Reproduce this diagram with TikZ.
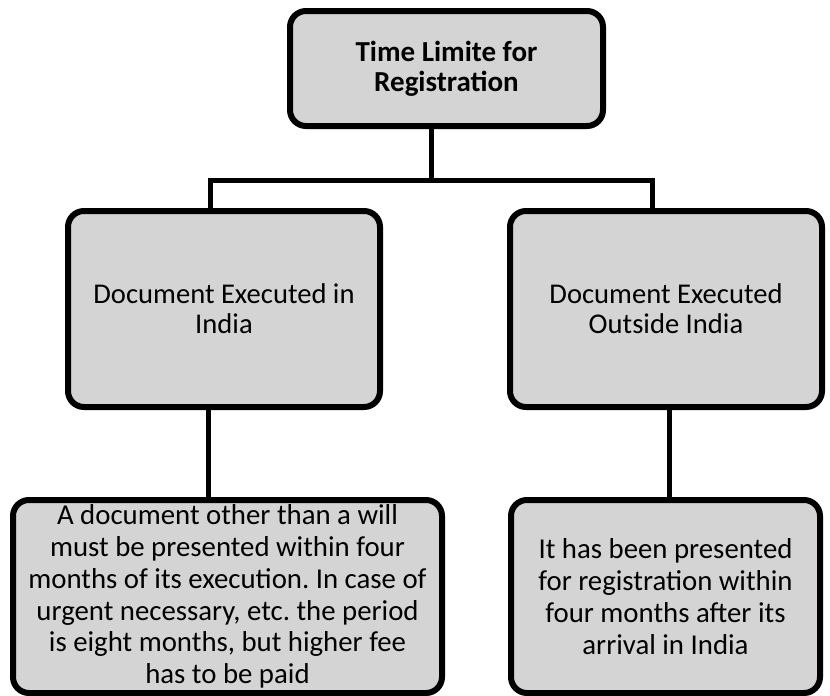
\documentclass[tikz,border=0pt]{standalone}
\usepackage{fontspec}
\setmainfont{Carlito}
\usepackage{tikz}
\definecolor{boxgray}{RGB}{212,212,212}
\frenchspacing

\begin{document}
\begin{tikzpicture}[x=1pt, y=-1pt,
  box/.style={draw=black, fill=boxgray, line width=6pt, rounded corners=16pt, align=center, inner sep=0pt, font=\fontsize{28.6}{30}\selectfont},
  note/.style={box, font=\fontsize{28.8}{31.8}\selectfont},
  link/.style={line width=5pt}]
  \useasboundingbox (0,0) rectangle (830,696);
  % boxes
  \node[box, minimum width=313pt, minimum height=115pt, font=\bfseries\fontsize{29}{30}\selectfont] (limit) at (446.5,68.5) {Time Limite for\\Registration};
  \node[box, minimum width=312pt, minimum height=196pt] (inindia) at (224,309) {Document Executed in\\India};
  \node[box, minimum width=312pt, minimum height=196pt] (outindia) at (666,309) {Document Executed\\Outside India};
  \node[note, minimum width=429pt, minimum height=193pt] (within4) at (227.5,596.5) {A document other than a will\\must be presented within four\\months of its execution. In case of\\urgent necessary, etc. the period\\is eight months, but higher fee\\has to be paid};
  \node[note, minimum width=309pt, minimum height=193pt] (arrival) at (665.5,596.5) {It has been presented\\for registration within\\four months after its\\arrival in India};
  % connectors
  \coordinate (split) at (431,180.5);
  \coordinate (hl) at (210,180.5);
  \coordinate (hr) at (652,180.5);
  \coordinate (dl) at (208,409);
  \coordinate (dr) at (669,409);
  \draw[link] (limit.south -| split) -- (split);
  \draw[link] (hl |- inindia.north) -- (hl) -- (hr) -- (hr |- outindia.north);
  \draw[link] (dl) -- (dl |- within4.north);
  \draw[link] (dr) -- (dr |- arrival.north);
\end{tikzpicture}
\end{document}
